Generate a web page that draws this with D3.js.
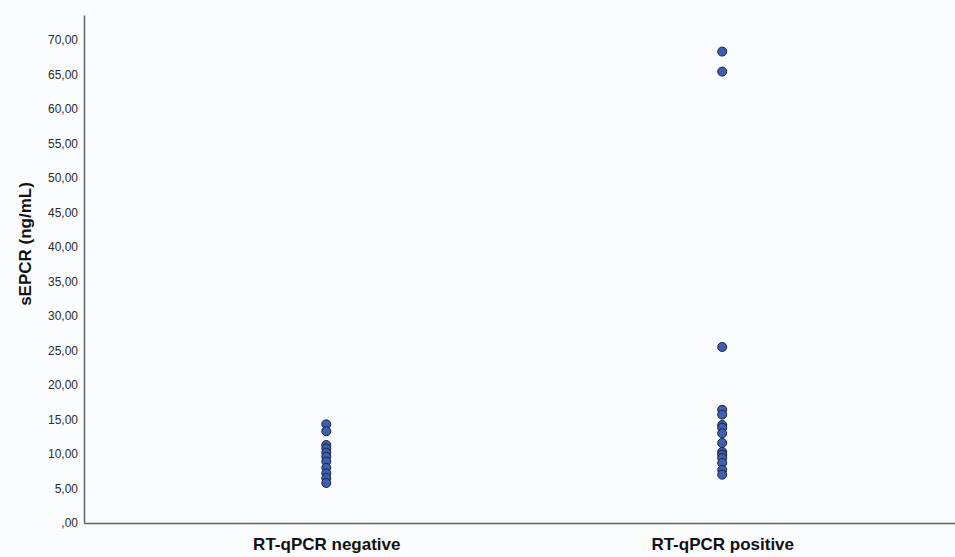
<!DOCTYPE html>
<html>
<head>
<meta charset="utf-8">
<script src="https://cdn.jsdelivr.net/npm/d3@7"></script>
<style>
  body { margin: 0; background: #fbfcfe; }
  svg { display: block; font-family: "Liberation Sans", Arial, sans-serif; }
</style>
</head>
<body>
<div id="chart"></div>
<script>
var categories = ["RT-qPCR negative", "RT-qPCR positive"];
var negativeValues = [14.3, 13.3, 11.3, 10.8, 10.2, 9.6, 8.9, 8.0, 7.2, 6.5, 5.8];
var positiveValues = [68.3, 65.4, 25.5, 16.4, 15.7, 14.2, 13.8, 13.0, 11.6, 10.3, 9.9, 9.4, 8.7, 7.7, 7.0];
var yTicks = [0, 5, 10, 15, 20, 25, 30, 35, 40, 45, 50, 55, 60, 65, 70];
var yTitle = "sEPCR (ng/mL)";

var width = 955, height = 557;
var margin = {top: 15, right: 0, bottom: 34, left: 84};

var points = [];
negativeValues.forEach(function(v) { points.push({group: categories[0], value: v}); });
positiveValues.forEach(function(v) { points.push({group: categories[1], value: v}); });

var svg = d3.select("#chart").append("svg")
    .attr("width", width)
    .attr("height", height);

var x = d3.scalePoint()
    .domain(categories)
    .range([margin.left, width - margin.right])
    .padding(0.6)
    .align(0.51);

var y = d3.scaleLinear()
    .domain([0, 73.6])
    .range([height - margin.bottom, margin.top]);

function fmt(d) {
    return d === 0 ? ",00" : d.toFixed(2).replace(".", ",");
}

var yAxis = d3.axisLeft(y)
    .tickValues(yTicks)
    .tickFormat(fmt)
    .tickSize(0)
    .tickPadding(6);

var xAxis = d3.axisBottom(x)
    .tickSize(0)
    .tickPadding(0);

// y axis
var gy = svg.append("g")
    .attr("transform", "translate(" + margin.left + ",0)")
    .call(yAxis);
gy.select(".domain").attr("stroke", "#5b6670").attr("stroke-width", 1.5);
gy.selectAll(".tick text")
    .attr("fill", "#2b2b2b")
    .style("font-size", "12px");

// x axis
var gx = svg.append("g")
    .attr("transform", "translate(0," + (height - margin.bottom) + ")")
    .call(xAxis);
gx.select(".domain").attr("stroke", "#5b6670").attr("stroke-width", 1.5);
gx.selectAll(".tick text")
    .attr("fill", "#111")
    .attr("dy", 0)
    .attr("y", 27)
    .style("font-size", "17px")
    .style("font-weight", "bold");

// y title
svg.append("text")
    .attr("transform", "translate(31,244) rotate(-90)")
    .attr("text-anchor", "middle")
    .attr("fill", "#111")
    .style("font-size", "17px")
    .style("font-weight", "bold")
    .text(yTitle);

// dots
svg.selectAll(".dot")
    .data(points)
    .enter().append("circle")
    .attr("class", "dot")
    .attr("cx", function(d) { return x(d.group); })
    .attr("cy", function(d) { return y(d.value); })
    .attr("r", 4.5)
    .attr("fill", "#3d5fb3")
    .attr("stroke", "#1b2238")
    .attr("stroke-width", 1);
</script>
</body>
</html>
